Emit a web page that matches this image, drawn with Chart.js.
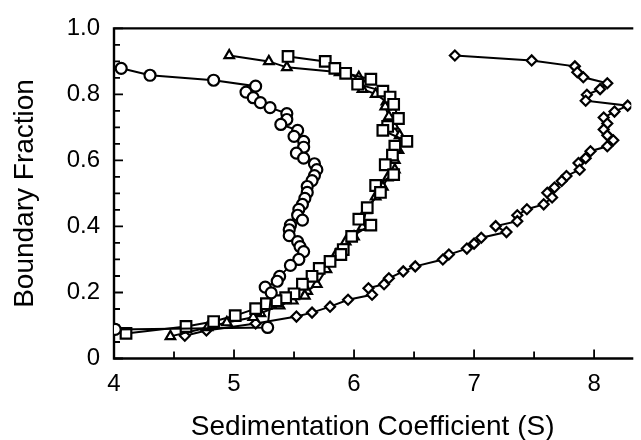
<!DOCTYPE html>
<html>
<head>
<meta charset="utf-8">
<script src="https://cdn.jsdelivr.net/npm/chart.js@4.4.1/dist/chart.umd.min.js"></script>
<style>
  html, body { margin: 0; padding: 0; background: #fff; }
  #wrap { width: 641px; height: 440px; }
</style>
</head>
<body>
<div id="wrap"><canvas id="chart" width="641" height="440"></canvas></div>
<script>
/* data: sedimentation coefficient (S) vs boundary fraction */
const circleS = [4.06, 4.30, 4.83, 5.18, 5.10, 5.16, 5.22, 5.30, 5.44, 5.44, 5.39, 5.53, 5.50, 5.58, 5.58, 5.52, 5.58, 5.67, 5.69, 5.67, 5.65, 5.61, 5.61, 5.59, 5.57, 5.54, 5.53, 5.57, 5.47, 5.46, 5.46, 5.53, 5.55, 5.58, 5.54, 5.47, 5.38, 5.36, 5.26, 5.31, 5.28, 4.01];
const circleF = [0.879, 0.858, 0.843, 0.825, 0.807, 0.790, 0.775, 0.760, 0.742, 0.724, 0.709, 0.691, 0.673, 0.658, 0.640, 0.622, 0.607, 0.590, 0.572, 0.554, 0.539, 0.521, 0.503, 0.485, 0.467, 0.452, 0.434, 0.419, 0.404, 0.390, 0.372, 0.354, 0.339, 0.324, 0.300, 0.282, 0.249, 0.234, 0.216, 0.199, 0.094, 0.088];

const squareS = [5.45, 5.76, 5.84, 5.93, 6.14, 6.03, 6.24, 6.30, 6.33, 6.37, 6.28, 6.24, 6.44, 6.34, 6.32, 6.26, 6.33, 6.18, 6.22, 6.11, 6.04, 6.14, 5.98, 5.91, 5.89, 5.80, 5.71, 5.65, 5.57, 5.50, 5.43, 5.35, 5.27, 5.18, 5.01, 4.83, 4.60, 4.10];
const squareF = [0.915, 0.900, 0.879, 0.864, 0.846, 0.831, 0.810, 0.792, 0.770, 0.727, 0.703, 0.691, 0.658, 0.643, 0.616, 0.587, 0.557, 0.524, 0.503, 0.457, 0.422, 0.404, 0.370, 0.330, 0.315, 0.294, 0.273, 0.249, 0.225, 0.196, 0.184, 0.175, 0.166, 0.151, 0.130, 0.112, 0.097, 0.076];

const triangleS = [4.96, 5.29, 5.44, 5.88, 6.04, 6.07, 6.18, 6.27, 6.26, 6.29, 6.33, 6.38, 6.37, 6.34, 6.34, 6.28, 6.24, 6.18, 6.10, 6.07, 6.00, 5.93, 5.85, 5.77, 5.69, 5.61, 5.59, 5.49, 5.38, 5.22, 5.16, 4.94, 4.78, 4.47];
const triangleF = [0.918, 0.900, 0.882, 0.867, 0.852, 0.816, 0.801, 0.778, 0.763, 0.733, 0.705, 0.676, 0.631, 0.601, 0.572, 0.548, 0.520, 0.490, 0.449, 0.398, 0.369, 0.354, 0.315, 0.270, 0.225, 0.204, 0.190, 0.175, 0.160, 0.137, 0.125, 0.109, 0.094, 0.067];

const diamondS = [6.84, 7.48, 7.84, 7.86, 7.91, 8.11, 8.05, 7.94, 7.93, 8.28, 8.17, 8.08, 8.11, 8.08, 8.11, 8.16, 8.11, 7.97, 7.93, 7.87, 7.88, 7.77, 7.73, 7.67, 7.61, 7.65, 7.58, 7.44, 7.36, 7.36, 7.18, 7.27, 7.06, 7.00, 6.94, 6.79, 6.74, 6.51, 6.41, 6.29, 6.25, 6.12, 6.15, 5.95, 5.80, 5.65, 5.52, 5.18, 4.77, 4.59];
const diamondF = [0.918, 0.903, 0.885, 0.867, 0.852, 0.834, 0.816, 0.799, 0.781, 0.766, 0.748, 0.730, 0.712, 0.694, 0.676, 0.661, 0.643, 0.628, 0.607, 0.592, 0.572, 0.553, 0.538, 0.518, 0.502, 0.488, 0.467, 0.452, 0.434, 0.416, 0.401, 0.383, 0.366, 0.348, 0.333, 0.315, 0.300, 0.279, 0.264, 0.243, 0.225, 0.213, 0.193, 0.178, 0.157, 0.139, 0.127, 0.106, 0.085, 0.069];

const xTicks = [4, 4.5, 5, 5.5, 6, 6.5, 7, 7.5, 8];
const xTickLabels = ["4", "", "5", "", "6", "", "7", "", "8"];
const yTicks = [0, 0.05, 0.1, 0.15, 0.2, 0.25, 0.3, 0.35, 0.4, 0.45, 0.5, 0.55, 0.6, 0.65, 0.7, 0.75, 0.8, 0.85, 0.9, 0.95, 1.0];
const yTickLabels = ["0", "", "", "", "0.2", "", "", "", "0.4", "", "", "", "0.6", "", "", "", "0.8", "", "", "", "1.0"];

function pts(xs, ys) {
  return xs.map((v, i) => ({ x: v, y: ys[i] }));
}

function series(label, xs, ys, style, radius, bw) {
  return {
    label: label,
    data: pts(xs, ys),
    showLine: true,
    borderColor: "#000",
    borderWidth: 2,
    tension: 0,
    pointStyle: style,
    pointRadius: radius,
    pointBorderWidth: bw,
    pointBorderColor: "#000",
    pointBackgroundColor: "#fff",
  };
}

// inward ticks + frame (top line too, right side is cut off)
const frame = {
  id: "frame",
  beforeDatasetsDraw(chart) {
    const { ctx, chartArea: a, scales } = chart;
    const x = scales.x, y = scales.y;
    ctx.save();
    ctx.strokeStyle = "#000";
    ctx.lineWidth = 1.8;
    ctx.beginPath();
    xTicks.forEach((v, i) => {
      const px = x.getPixelForValue(v);
      const len = xTickLabels[i] ? 9 : 7;
      ctx.moveTo(px, a.bottom);
      ctx.lineTo(px, a.bottom - len);
    });
    yTicks.forEach((v, i) => {
      const py = y.getPixelForValue(v);
      const len = yTickLabels[i] ? 9 : 6;
      ctx.moveTo(a.left, py);
      ctx.lineTo(a.left + len, py);
    });
    ctx.stroke();
    ctx.lineWidth = 2.4;
    ctx.beginPath();
    ctx.moveTo(a.right + 2, a.top);
    ctx.lineTo(a.left, a.top);
    ctx.lineTo(a.left, a.bottom);
    ctx.lineTo(a.right + 2, a.bottom);
    ctx.stroke();
    ctx.restore();
  },
};

const font = "'Liberation Sans', Arial, sans-serif";

new Chart(document.getElementById("chart"), {
  type: "scatter",
  data: {
    datasets: [
      series("circles", circleS, circleF, "circle", 5.5, 2.2),
      series("squares", squareS, squareF, "rect", 7.5, 2.2),
      series("triangles", triangleS, triangleF, "triangle", 5.5, 2.2),
      series("diamonds", diamondS, diamondF, "rectRot", 5, 2.2),
    ],
  },
  options: {
    responsive: false,
    animation: false,
    layout: { padding: { top: 23, right: 0, bottom: 0, left: 0 } },
    plugins: {
      legend: { display: false },
      tooltip: { enabled: false },
    },
    scales: {
      x: {
        type: "linear",
        min: 4,
        max: 8.31,
        afterBuildTicks: (s) => { s.ticks = xTicks.map((v) => ({ value: v })); },
        afterFit: (s) => { s.height = 81.5; },
        grid: { display: false, drawTicks: false },
        border: { display: false },
        ticks: {
          autoSkip: false,
          maxRotation: 0,
          padding: 11,
          color: "#000",
          font: { family: font, size: 24 },
          callback: (v, i) => xTickLabels[i],
        },
        title: {
          display: true,
          text: "Sedimentation Coefficient (S)",
          color: "#000",
          font: { family: font, size: 28 },
          padding: { top: 0, bottom: -4 },
        },
      },
      y: {
        min: 0,
        max: 1,
        afterBuildTicks: (s) => { s.ticks = yTicks.map((v) => ({ value: v })); },
        afterFit: (s) => { s.width = 114; },
        grid: { display: false, drawTicks: false },
        border: { display: false },
        ticks: {
          autoSkip: false,
          padding: 14,
          color: "#000",
          font: { family: font, size: 24 },
          callback: (v, i) => yTickLabels[i],
        },
        title: {
          display: true,
          text: "Boundary Fraction",
          color: "#000",
          font: { family: font, size: 28 },
          padding: { top: 8, bottom: 0 },
        },
      },
    },
  },
  plugins: [frame],
});
</script>
</body>
</html>
